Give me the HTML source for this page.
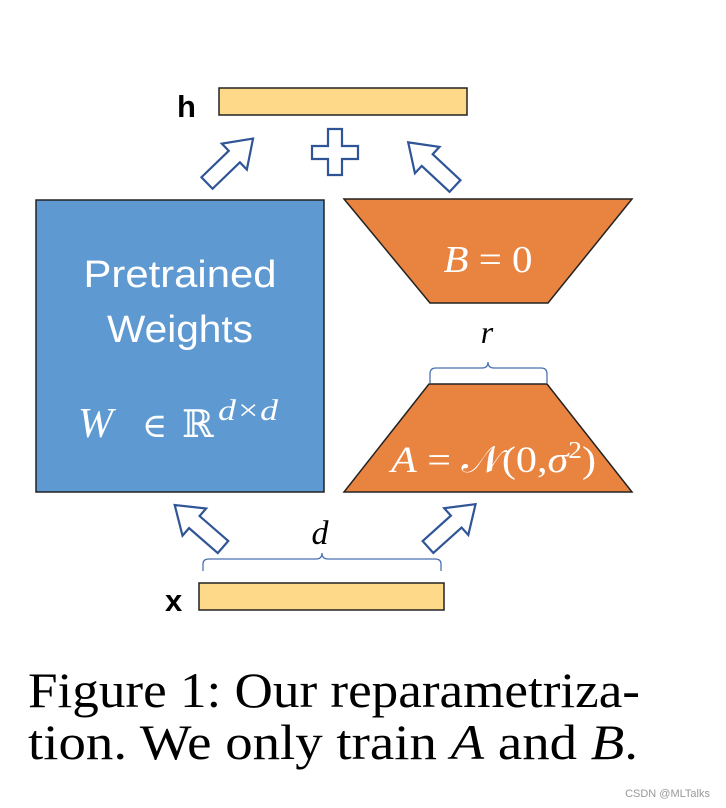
<!DOCTYPE html>
<html><head><meta charset="utf-8"><style>
html,body{margin:0;padding:0;background:#fff;}
svg{display:block;}
</style></head><body>
<svg width="726" height="808" viewBox="0 0 726 808" xmlns="http://www.w3.org/2000/svg">
<defs>
<polygon id="arr" points="0,-8 38,-8 38,-18 64,0 38,18 38,8 0,8" fill="#fff" stroke="#2f5597" stroke-width="2.2" stroke-linejoin="miter"/>
</defs>
<text x="177" y="117" font-family="Liberation Sans, sans-serif" font-size="31" font-weight="bold" fill="#000">h</text>
<rect x="219" y="88" width="248" height="27" fill="#ffd98a" stroke="#222" stroke-width="1.5"/>
<use href="#arr" transform="translate(207,183) rotate(-44)"/>
<use href="#arr" transform="translate(455,186) rotate(-137)"/>
<use href="#arr" transform="translate(223,547) rotate(-139)"/>
<use href="#arr" transform="translate(428,547) rotate(-42)"/>
<polygon points="328,129 342,129 342,146 358,146 358,159 342,159 342,175 328,175 328,159 312,159 312,146 328,146" fill="#fff" stroke="#2f5597" stroke-width="2.2"/>
<rect x="36" y="200" width="288" height="292" fill="#5e9ad1" stroke="#222" stroke-width="1.5"/>
<text x="180" y="287" text-anchor="middle" font-family="Liberation Sans, sans-serif" font-size="38" fill="#fff" textLength="193" lengthAdjust="spacingAndGlyphs">Pretrained</text>
<text x="180" y="342" text-anchor="middle" font-family="Liberation Sans, sans-serif" font-size="38" fill="#fff" textLength="146" lengthAdjust="spacingAndGlyphs">Weights</text>
<text x="78" y="437" font-family="Liberation Serif, serif" font-size="42" font-style="italic" fill="#fff">W</text>
<text x="142" y="437" font-family="DejaVu Serif, serif" font-size="34" fill="#fff">∈</text>
<text x="182" y="437" font-family="DejaVu Serif, serif" font-size="38" fill="#fff">ℝ</text>
<text x="218" y="420" font-family="Liberation Serif, serif" font-size="30" font-style="italic" fill="#fff" textLength="60" lengthAdjust="spacingAndGlyphs">d×d</text>
<polygon points="344,199 632,199 548,303 430,303" fill="#e8843f" stroke="#222" stroke-width="1.5"/>
<text x="488" y="272" text-anchor="middle" font-family="Liberation Serif, serif" font-size="38" fill="#fff" textLength="89" lengthAdjust="spacingAndGlyphs"><tspan font-style="italic">B</tspan> = 0</text>
<polygon points="429,384 547,384 632,492 344,492" fill="#e8843f" stroke="#222" stroke-width="1.5"/>
<text x="391" y="472" font-family="Liberation Serif, serif" font-size="37" fill="#fff" textLength="205" lengthAdjust="spacingAndGlyphs"><tspan font-style="italic">A</tspan> = 𝒩(0,<tspan font-style="italic">σ</tspan><tspan font-size="24" dy="-14">2</tspan><tspan dy="14">)</tspan></text>
<text x="487" y="343" text-anchor="middle" font-family="Liberation Serif, serif" font-size="32" font-style="italic" fill="#000">r</text>
<path d="M430,383 L430,374 Q430,368 436,368 L482,368 Q488,368 488,362 Q488,368 494,368 L541,368 Q547,368 547,374 L547,383" fill="none" stroke="#4a72b0" stroke-width="1.3"/>
<text x="320" y="544" text-anchor="middle" font-family="Liberation Serif, serif" font-size="34" font-style="italic" fill="#000">d</text>
<path d="M203,571 L203,564 Q203,559 209,559 L316,559 Q322,559 322,553 Q322,559 328,559 L435,559 Q441,559 441,564 L441,571" fill="none" stroke="#4a72b0" stroke-width="1.3"/>
<text x="165" y="611" font-family="Liberation Sans, sans-serif" font-size="31" font-weight="bold" fill="#000">x</text>
<rect x="199" y="583" width="245" height="27" fill="#ffd98a" stroke="#222" stroke-width="1.5"/>
<text x="28" y="707" font-family="Liberation Serif, serif" font-size="50" fill="#000" textLength="612" lengthAdjust="spacingAndGlyphs">Figure 1: Our reparametriza-</text>
<text x="28" y="759" font-family="Liberation Serif, serif" font-size="50" fill="#000" textLength="610" lengthAdjust="spacingAndGlyphs">tion. We only train <tspan font-style="italic">A</tspan> and <tspan font-style="italic">B</tspan>.</text>
<text x="710" y="797" text-anchor="end" font-family="Liberation Sans, sans-serif" font-size="11" fill="#999">CSDN @MLTalks</text>
</svg>
</body></html>
